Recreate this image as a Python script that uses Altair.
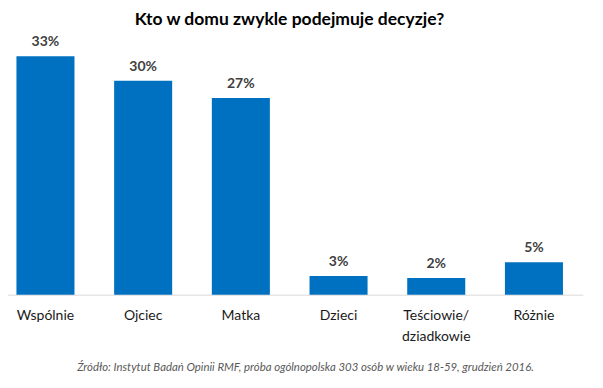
import altair as alt
import pandas as pd

categories = ["Wspólnie", "Ojciec", "Matka", "Dzieci", "Teściowie/\ndziadkowie", "Różnie"]
values = [33.0, 29.6, 27.2, 2.6, 2.3, 4.5]
labels = ["33%", "30%", "27%", "3%", "2%", "5%"]

title_text = "Kto w domu zwykle podejmuje decyzje?"
source_text = "Źródło: Instytut Badań Opinii RMF, próba ogólnopolska 303 osób w wieku 18-59, grudzień 2016."

df = pd.DataFrame({"kat": categories, "val": values, "lab": labels})

FONT = "Lato"

x = alt.X(
    "kat:N",
    sort=categories,
    scale=alt.Scale(range=[-11.4, 574.8], paddingInner=0.406, paddingOuter=0.203),
    axis=alt.Axis(
        title=source_text,
        labelExpr="split(datum.label, '\\n')",
        labelAngle=0,
        labelFont=FONT,
        labelFontSize=14,
        labelColor="#1a1a1a",
        labelLineHeight=21,
        labelPadding=14,
        ticks=False,
        tickSize=0,
        domainColor="#d9d9d9",
        domainWidth=1,
        titleFont=FONT,
        titleFontSize=11.4,
        titleFontStyle="italic",
        titleFontWeight="normal",
        titleColor="#595959",
        titleX=297,
        titleY=73,
        titleAlign="center",
        titleBaseline="middle",
    ),
)
y = alt.Y("val:Q", scale=alt.Scale(domain=[0, 35]), axis=None)

bars = alt.Chart(df).mark_bar(color="#0070c0").encode(x=x, y=y)
text = alt.Chart(df).mark_text(
    font=FONT, fontSize=14, fontWeight="bold", color="#404040", dy=-10, baseline="alphabetic"
).encode(x=alt.X("kat:N", sort=categories), y="val:Q", text="lab:N")

chart = (
    alt.layer(bars, text)
    .properties(
        width=575,
        height=253,
        title=alt.TitleParams(
            text=title_text,
            font=FONT,
            fontSize=17.5,
            fontWeight="bold",
            color="#000000",
            anchor="middle",
            offset=7,
            dx=-6,
        ),
        autosize=alt.AutoSizeParams(type="none"),
        padding={"left": 0, "top": 33.7, "right": 10, "bottom": 85},
    )
    .configure_view(stroke=None)
)

chart.save("out.html", embed_options={"renderer": "svg", "actions": False})
